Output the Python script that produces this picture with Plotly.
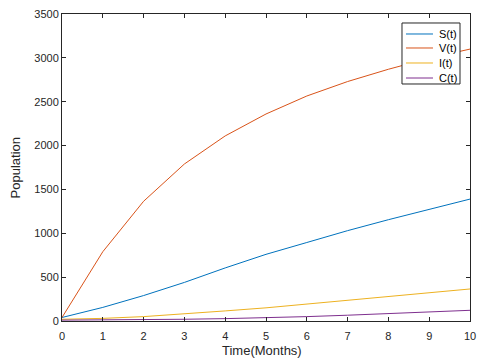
import plotly.graph_objects as go

months = [0, 1, 2, 3, 4, 5, 6, 7, 8, 9, 10]
S = [40, 155, 290, 440, 605, 760, 895, 1030, 1155, 1275, 1390]
V = [40, 790, 1365, 1790, 2110, 2360, 2565, 2730, 2870, 2995, 3100]
I = [20, 30, 50, 80, 115, 150, 192, 236, 278, 322, 365]
C = [10, 12, 15, 20, 27, 36, 50, 66, 84, 102, 122]

names = ["S(t)", "V(t)", "I(t)", "C(t)"]
colors = ["#0072BD", "#D95319", "#EDB120", "#7E2F8E"]
x_ticks = list(range(0, 11))
y_ticks = list(range(0, 3501, 500))

fig = go.Figure()
for name, ys, col in zip(names, [S, V, I, C], colors):
    fig.add_trace(go.Scatter(x=months, y=ys, mode="lines", name=name,
                             line=dict(color=col, width=1), showlegend=False))

FONT = "Liberation Sans, Arial, Helvetica"
INK = "#262626"
axis_common = dict(showline=True, linecolor=INK, linewidth=1, mirror="allticks",
                   ticks="inside", ticklen=4, tickcolor=INK, showgrid=False,
                   zeroline=False, automargin=False,
                   tickfont=dict(family=FONT, size=11, color=INK))

# compact legend box (MATLAB-like), in paper coordinates
shapes = [dict(type="rect", xref="paper", yref="paper", x0=0.8333, x1=0.9755,
               y0=0.772, y1=0.9707, line=dict(color=INK, width=1), fillcolor="white",
               layer="above")]
annotations = []
row_y = [0.9349, 0.8893, 0.8404, 0.7915]
for name, col, yy in zip(names, colors, row_y):
    shapes.append(dict(type="line", xref="paper", yref="paper", x0=0.8431, x1=0.9093,
                       y0=yy, y1=yy, line=dict(color=col, width=1), layer="above"))
    annotations.append(dict(text=name, xref="paper", yref="paper", x=0.9191, y=yy,
                            xanchor="left", yanchor="middle", showarrow=False,
                            font=dict(family=FONT, size=11, color="#000000")))

annotations += [
    dict(text="Time(Months)", xref="paper", yref="paper", x=0.49, y=-0.097,
         xanchor="center", yanchor="middle", showarrow=False,
         font=dict(family=FONT, size=13, color=INK)),
    dict(text="Population", xref="paper", yref="paper", x=-0.113, y=0.5,
         xanchor="center", yanchor="middle", showarrow=False, textangle=-90,
         font=dict(family=FONT, size=13, color=INK)),
]

fig.update_layout(
    width=477, height=361,
    margin=dict(l=62, r=7, t=14, b=40, pad=0),
    paper_bgcolor="white", plot_bgcolor="white",
    font=dict(family=FONT, size=11, color=INK),
    xaxis=dict(range=[0, 10], tickvals=x_ticks, ticklabelstandoff=5, **axis_common),
    yaxis=dict(range=[0, 3500], tickvals=y_ticks, **axis_common),
    showlegend=False,
    shapes=shapes,
    annotations=annotations,
)

fig.write_html("out.html", config={"displayModeBar": False})

with open("out.html", "r", encoding="utf-8") as f:
    html = f.read()
html = html.replace("<body>", '<body style="margin:0;padding:0;overflow:hidden">', 1)
with open("out.html", "w", encoding="utf-8") as f:
    f.write(html)
